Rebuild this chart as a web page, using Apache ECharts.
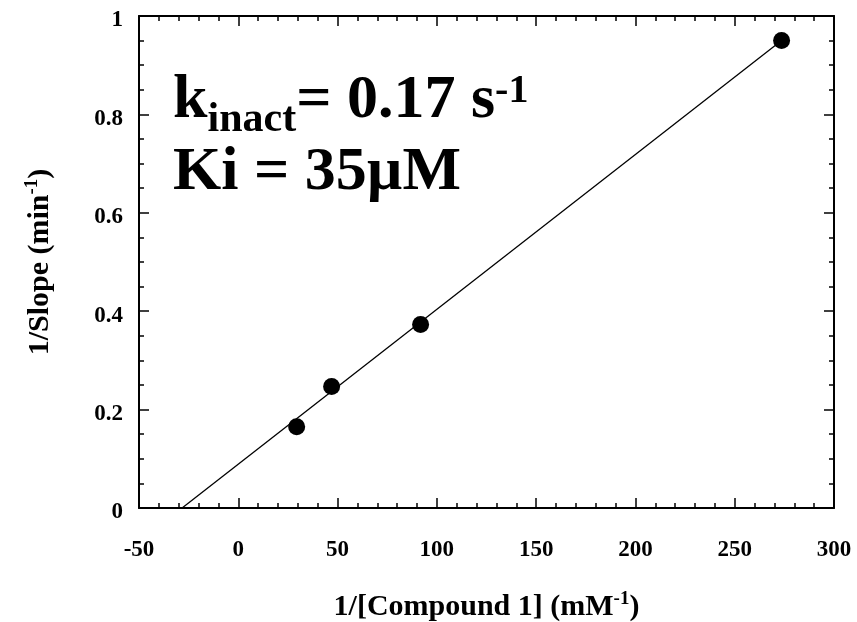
<!DOCTYPE html>
<html>
<head>
<meta charset="utf-8">
<title>Kitz-Wilson plot</title>
<script src="https://cdn.jsdelivr.net/npm/echarts@6/dist/echarts.min.js"></script>
<style>
  html, body { margin: 0; padding: 0; background: #fff; }
  #chart { width: 857px; height: 622px; }
</style>
</head>
<body>
<div id="chart"></div>
<script>
// Measured points: 1/[inhibitor] (mM^-1) vs 1/slope (min^-1)
const invConc = [29.4, 47.0, 91.8, 273.6];
const invSlope = [0.165, 0.247, 0.373, 0.950];

// Linear fit drawn from the x-intercept to the last point
const fitX = [-28.3, 273.6];
const fitY = [0, 0.95];

// Axis ranges and tick spacing
const xMin = -50, xMax = 300, xStep = 50;
const yMin = 0, yMax = 1, yStep = 0.2;

const SERIF = '"Liberation Serif", "Times New Roman", Times, serif';

const chart = echarts.init(document.getElementById('chart'), null, { renderer: 'canvas' });

// Text width helper for laying out sub/superscripts of the annotation
const measureCtx = document.createElement('canvas').getContext('2d');
function textWidth(str, size) {
  measureCtx.font = 'bold ' + size + 'px ' + SERIF;
  return measureCtx.measureText(str).width;
}
// zrender draws with textBaseline 'middle'; convert an alphabetic baseline to that
function midFromBaseline(base, size) {
  return base - 0.3375 * size;
}

function textEl(str, x, base, size) {
  return {
    type: 'text',
    x: x,
    y: midFromBaseline(base, size),
    silent: true,
    style: {
      text: str,
      fill: '#000',
      font: 'bold ' + size + 'px ' + SERIF,
      align: 'left',
      verticalAlign: 'middle'
    }
  };
}

// Annotation block: k_inact = 0.17 s^-1 / Ki = 35µM
const big = 62, sub = 42, sup = 40;
const ax0 = 173, base1 = 122, base2 = 194;
const annotation = [];
let cx = ax0;
annotation.push(textEl('k', cx, base1, big));
cx += textWidth('k', big);
annotation.push(textEl('inact', cx, base1 + 12, sub));
cx += textWidth('inact', sub);
annotation.push(textEl('= 0.17 s', cx, base1, big));
cx += textWidth('= 0.17 s', big);
annotation.push(textEl('-1', cx, base1 - 17, sup));
annotation.push(textEl('Ki = 35\u00b5M', ax0, base2, big));

const tickFont = { fontFamily: SERIF, fontWeight: 'bold', fontSize: 23, color: '#000' };
const axisLineStyle = { show: true, onZero: false, lineStyle: { color: '#000', width: 2 } };

function frameAxis(extra) {
  return Object.assign({
    type: 'value',
    axisLine: axisLineStyle,
    axisTick: { show: true, inside: true, length: 10, lineStyle: { color: '#000', width: 1.5 } },
    splitLine: { show: false },
    minorSplitLine: { show: false }
  }, extra);
}

const option = {
  backgroundColor: '#fff',
  animation: false,
  grid: { left: 139, right: 23, top: 16, bottom: 114, containLabel: false, outerBoundsMode: 'none' },
  xAxis: [
    frameAxis({
      position: 'bottom',
      min: xMin, max: xMax, interval: xStep,
      minorTick: { show: true, splitNumber: 5, length: 5, lineStyle: { color: '#000', width: 1.5 } },
      axisLabel: Object.assign({ margin: 31 }, tickFont),
      name: '{t|1/[Compound 1] (mM}{s|-1}{t|)}',
      nameLocation: 'middle',
      nameGap: 82,
      nameTextStyle: {
        rich: {
          t: { fontFamily: SERIF, fontWeight: 'bold', fontSize: 30, lineHeight: 34, color: '#000' },
          s: { fontFamily: SERIF, fontWeight: 'bold', fontSize: 19, lineHeight: 19, color: '#000', verticalAlign: 'top' }
        }
      }
    }),
    frameAxis({
      position: 'top',
      min: xMin, max: xMax, interval: xStep,
      minorTick: { show: true, splitNumber: 5, length: 5, lineStyle: { color: '#000', width: 1.5 } },
      axisLabel: { show: false }
    })
  ],
  yAxis: [
    frameAxis({
      position: 'left',
      min: yMin, max: yMax, interval: yStep,
      minorTick: { show: true, splitNumber: 4, length: 5, lineStyle: { color: '#000', width: 1.5 } },
      axisLabel: {
        margin: 16,
        formatter: v => '{v|' + v + '}',
        rich: {
          v: Object.assign({ padding: [9, 0, 0, 0] }, tickFont)
        }
      },
      name: '{t|1/Slope (min}{s|-1}{t|)}',
      nameLocation: 'middle',
      nameRotate: 90,
      nameGap: 82,
      nameTextStyle: {
        rich: {
          t: { fontFamily: SERIF, fontWeight: 'bold', fontSize: 30, lineHeight: 34, color: '#000' },
          s: { fontFamily: SERIF, fontWeight: 'bold', fontSize: 19, lineHeight: 19, color: '#000', verticalAlign: 'top' }
        }
      }
    }),
    frameAxis({
      position: 'right',
      min: yMin, max: yMax, interval: yStep,
      minorTick: { show: true, splitNumber: 4, length: 5, lineStyle: { color: '#000', width: 1.5 } },
      axisLabel: { show: false }
    })
  ],
  series: [
    {
      type: 'line',
      data: fitX.map((x, i) => [x, fitY[i]]),
      showSymbol: false,
      symbol: 'none',
      lineStyle: { color: '#000', width: 1.3 },
      silent: true,
      z: 2
    },
    {
      type: 'scatter',
      data: invConc.map((x, i) => [x, invSlope[i]]),
      symbol: 'circle',
      symbolSize: 17,
      itemStyle: { color: '#000', opacity: 1 },
      z: 3
    }
  ],
  graphic: annotation
};

chart.setOption(option);
</script>
</body>
</html>
